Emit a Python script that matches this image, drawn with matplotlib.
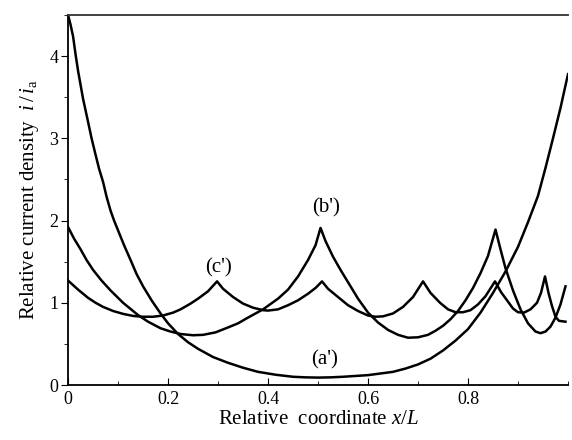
import matplotlib
matplotlib.use("Agg")
from matplotlib import pyplot as plt
from matplotlib.ticker import MultipleLocator

plt.rcParams['font.family'] = ['Liberation Serif', 'DejaVu Serif']
plt.rcParams['mathtext.fontset'] = 'custom'
plt.rcParams['mathtext.rm'] = 'Liberation Serif'
plt.rcParams['mathtext.it'] = 'Liberation Serif:italic'

# curve (a')
xa = [0.0, 0.005, 0.01, 0.015, 0.02, 0.025, 0.03, 0.035, 0.04, 0.047, 0.055,
      0.062, 0.07, 0.077, 0.085, 0.092, 0.10, 0.112, 0.125, 0.137, 0.15, 0.167,
      0.185, 0.20, 0.22, 0.24, 0.26, 0.29, 0.32, 0.35, 0.38, 0.415, 0.45, 0.475,
      0.50, 0.525, 0.55, 0.575, 0.60, 0.625, 0.65, 0.675, 0.70, 0.725, 0.75,
      0.775, 0.80, 0.825, 0.85, 0.875, 0.90, 0.92, 0.94, 0.955, 0.97, 0.985, 1.0]
ya = [4.50, 4.38, 4.24, 4.02, 3.82, 3.65, 3.48, 3.34, 3.20, 3.00, 2.80,
      2.63, 2.47, 2.29, 2.12, 2.00, 1.88, 1.70, 1.52, 1.35, 1.20, 1.03,
      0.87, 0.75, 0.62, 0.52, 0.44, 0.34, 0.27, 0.21, 0.16, 0.125, 0.10, 0.093,
      0.09, 0.093, 0.10, 0.11, 0.12, 0.14, 0.16, 0.20, 0.25, 0.32, 0.42,
      0.54, 0.68, 0.88, 1.12, 1.38, 1.68, 1.98, 2.30, 2.64, 3.00, 3.37, 3.78]

# curve (b')
xb = [0.0, 0.012, 0.025, 0.037, 0.05, 0.067, 0.085, 0.11, 0.14, 0.16, 0.185,
      0.205, 0.225, 0.25, 0.27, 0.295, 0.32, 0.34, 0.36, 0.39, 0.42, 0.44, 0.46,
      0.48, 0.495, 0.505, 0.515, 0.53, 0.545, 0.56, 0.58, 0.60, 0.62, 0.64, 0.66,
      0.68, 0.70, 0.72, 0.735, 0.75, 0.765, 0.78, 0.795, 0.81, 0.825, 0.84,
      0.855, 0.865, 0.875, 0.89, 0.905, 0.92, 0.935, 0.945, 0.955, 0.965,
      0.975, 0.985, 0.995]
yb = [1.92, 1.78, 1.65, 1.52, 1.40, 1.27, 1.15, 1.00, 0.85, 0.77, 0.69,
      0.65, 0.62, 0.605, 0.61, 0.64, 0.70, 0.75, 0.82, 0.92, 1.05, 1.16, 1.32,
      1.52, 1.70, 1.91, 1.75, 1.56, 1.40, 1.25, 1.05, 0.88, 0.76, 0.67, 0.61,
      0.575, 0.58, 0.61, 0.66, 0.72, 0.80, 0.90, 1.03, 1.18, 1.36, 1.57,
      1.89, 1.65, 1.42, 1.15, 0.92, 0.75, 0.65, 0.63, 0.65, 0.71,
      0.82, 0.98, 1.20]

# curve (c')
xc = [0.0, 0.02, 0.04, 0.055, 0.07, 0.09, 0.11, 0.13, 0.15, 0.17, 0.19, 0.21,
      0.225, 0.245, 0.26, 0.28, 0.298, 0.31, 0.33, 0.35, 0.37, 0.39, 0.40, 0.42,
      0.44, 0.46, 0.48, 0.495, 0.508, 0.52, 0.54, 0.56, 0.58, 0.60, 0.615, 0.63,
      0.65, 0.67, 0.69, 0.71, 0.725, 0.744, 0.76, 0.775, 0.79, 0.805, 0.82,
      0.835, 0.854, 0.866, 0.878, 0.89, 0.90, 0.912, 0.925, 0.938, 0.946,
      0.954, 0.961, 0.968, 0.975, 0.982, 0.995]
yc = [1.27, 1.16, 1.06, 1.00, 0.95, 0.90, 0.865, 0.84, 0.83, 0.83, 0.845, 0.88,
      0.92, 0.99, 1.05, 1.14, 1.26, 1.17, 1.07, 0.99, 0.94, 0.91, 0.905, 0.92,
      0.97, 1.03, 1.11, 1.18, 1.26, 1.17, 1.07, 0.97, 0.90, 0.845, 0.83, 0.835,
      0.87, 0.95, 1.07, 1.26, 1.12, 1.00, 0.92, 0.885, 0.885, 0.91, 0.98,
      1.08, 1.26, 1.13, 1.03, 0.93, 0.885, 0.88, 0.92, 1.00, 1.12,
      1.32, 1.12, 0.96, 0.83, 0.78, 0.77]

labels = ["(a')", "(b')", "(c')"]
label_x = [0.514, 0.516, 0.30]
label_y = [0.30, 2.16, 1.43]

fig = plt.figure(figsize=(5.72, 4.40), dpi=100)
ax = fig.add_axes([0.119, 0.125, 0.874, 0.841])

for x, y in [(xa, ya), (xb, yb), (xc, yc)]:
    ax.plot(x, y, color='black', lw=1.8)

for t, tx, ty in zip(labels, label_x, label_y):
    ax.text(tx, ty, t, fontsize=15, ha='center', va='center')

ax.set_xlim(0, 1.0)
ax.set_ylim(0, 4.5)
ax.set_xticks([0, 0.2, 0.4, 0.6, 0.8])
ax.set_xticklabels(['0', '0.2', '0.4', '0.6', '0.8'])
ax.xaxis.set_minor_locator(MultipleLocator(0.1))
ax.set_yticks([0, 1, 2, 3, 4])
ax.yaxis.set_minor_locator(MultipleLocator(0.5))
ax.tick_params(axis='x', which='both', direction='in', labelsize=13, pad=4)
ax.tick_params(axis='x', which='major', length=5)
ax.tick_params(axis='x', which='minor', length=3)
ax.tick_params(axis='y', which='both', direction='out', labelsize=13, pad=2)
ax.tick_params(axis='y', which='major', length=5)
ax.tick_params(axis='y', which='minor', length=3)

ax.spines['right'].set_visible(False)
for s in ['left', 'bottom', 'top']:
    ax.spines[s].set_linewidth(1.3)
ax.spines['top'].set_color('#333333')

ax.set_xlabel(r"Relative  coordinate $x/L$", fontsize=15, labelpad=2)
ax.set_ylabel(r"Relative current density  $i\,/\,i_{\mathrm{a}}$", fontsize=15, labelpad=6)

fig.savefig("out.png", dpi=100)
